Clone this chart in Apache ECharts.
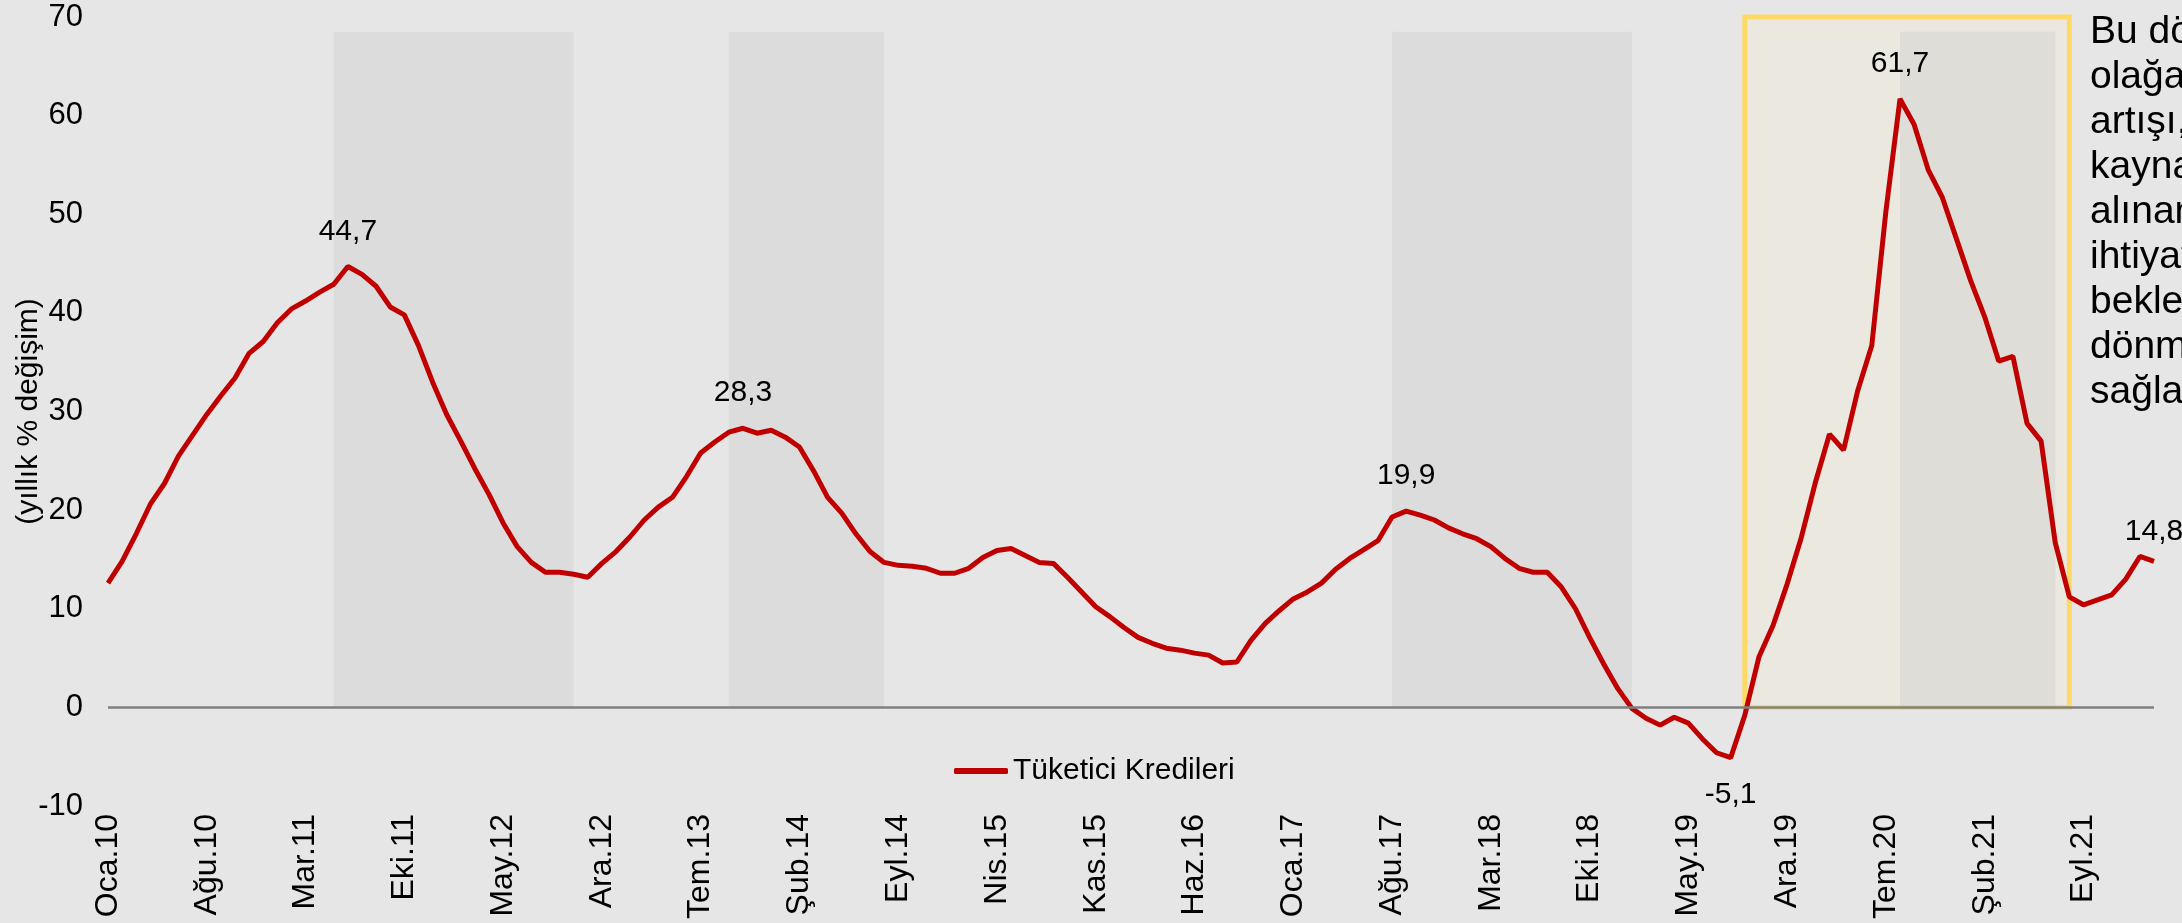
<!DOCTYPE html>
<html>
<head>
<meta charset="utf-8">
<script src="https://cdn.jsdelivr.net/npm/echarts@6/dist/echarts.min.js"></script>
<style>
  html, body { margin: 0; padding: 0; background: #e6e6e6; }
  #chart { width: 2182px; height: 923px; }
</style>
</head>
<body>
<div id="chart"></div>
<script>
// aylar (Oca.10 - Şub.22)
var monthNames = ["Oca", "Şub", "Mar", "Nis", "May", "Haz", "Tem", "Ağu", "Eyl", "Eki", "Kas", "Ara"];
var startYear = 10;
var monthCount = 146;

// Tüketici kredileri, yıllık % değişim (aylık okuma)
var tuketiciKredileri = [
  12.6, 14.8, 17.6, 20.6, 22.7, 25.5, 27.6, 29.7, 31.6, 33.4, 35.9, 37.1,
  39.0, 40.4, 41.2, 42.1, 42.9, 44.7, 43.9, 42.7, 40.6, 39.8, 36.7, 33.0,
  29.7, 27.0, 24.2, 21.6, 18.7, 16.3, 14.7, 13.7, 13.7, 13.5, 13.2, 14.6,
  15.8, 17.3, 19.0, 20.3, 21.3, 23.4, 25.8, 26.9, 27.9, 28.3, 27.8, 28.1,
  27.4, 26.4, 24.0, 21.3, 19.7, 17.6, 15.8, 14.7, 14.4, 14.3, 14.1, 13.6,
  13.6, 14.1, 15.2, 15.9, 16.1, 15.4, 14.7, 14.6, 13.2, 11.7, 10.2, 9.2,
  8.1, 7.1, 6.5, 6.0, 5.8, 5.5, 5.3, 4.5, 4.6, 6.8, 8.5, 9.8,
  11.0, 11.7, 12.6, 14.0, 15.1, 16.0, 16.9, 19.3, 19.9, 19.5, 19.0, 18.2,
  17.6, 17.1, 16.3, 15.1, 14.1, 13.7, 13.7, 12.2, 10.0, 7.1, 4.4, 1.9,
  -0.1, -1.1, -1.8, -1.0, -1.6, -3.2, -4.6, -5.1, -0.8, 5.1, 8.3, 12.5,
  17.2, 22.8, 27.7, 26.1, 32.1, 36.7, 50.3, 61.7, 59.1, 54.5, 51.7, 47.5,
  43.3, 39.6, 35.1, 35.6, 28.8, 27.0, 16.7, 11.2, 10.4, 10.9, 11.4, 13.0,
  15.3, 14.8
];

// etiketlenen noktalar
var labelIdx = [17, 45, 92, 115, 127, 145];
var labelPos = ["top", "top", "top", "bottom", "top", "top"];

// gri dönemler
var greyBands = [["May.11", "Eki.12"], ["Eyl.13", "Ağu.14"], ["Ağu.17", "Oca.19"], ["Ağu.20", "Tem.21"]];
var highlightBox = ["Eyl.19", "Ağu.21"];

var noteLines = ["Bu dönemde", "olağanüstü", "artışı,", "kaynaklı", "alınan", "ihtiyati", "beklenen", "dönmesini", "sağlanmıştır."];

var months = [];
for (var i = 0; i < monthCount; i++) {
  months.push(monthNames[i % 12] + "." + (startYear + Math.floor(i / 12)));
}

var seriesData = tuketiciKredileri.map(function (v, i) {
  var k = labelIdx.indexOf(i);
  if (k < 0) return v;
  return {
    value: v,
    label: {
      show: true,
      position: labelPos[k],
      distance: labelPos[k] === "bottom" ? 22 : (i === 145 ? 15 : 20)
    }
  };
});

var font = "Liberation Sans, Arial, sans-serif";

var chart = echarts.init(document.getElementById("chart"));
var option = {
  backgroundColor: "#e6e6e6",
  animation: false,
  grid: { left: 108, right: 28, top: 17, bottom: 117, outerBoundsMode: "none", containLabel: false },
  legend: {
    data: ["Tüketici Kredileri"],
    left: 949,
    top: 751,
    icon: "roundRect",
    itemWidth: 54,
    itemHeight: 6,
    textStyle: { fontFamily: font, fontSize: 30, color: "#000" }
  },
  xAxis: {
    type: "category",
    data: months,
    boundaryGap: false,
    axisLine: { show: false, onZero: false },
    axisTick: { show: false },
    axisLabel: {
      interval: 6,
      rotate: 90,
      margin: 8,
      fontFamily: font,
      fontSize: 32,
      color: "#000"
    },
    splitLine: { show: false }
  },
  yAxis: {
    type: "value",
    min: -10,
    max: 70,
    interval: 10,
    name: "(yıllık % değişim)",
    nameLocation: "middle",
    nameGap: 64,
    nameMoveOverlap: false,
    nameTextStyle: { fontFamily: font, fontSize: 30, color: "#000" },
    axisLine: { show: false },
    axisTick: { show: false },
    splitLine: { show: false },
    axisLabel: { margin: 25, fontFamily: font, fontSize: 31, color: "#000" }
  },
  series: [
    {
      name: "Tüketici Kredileri",
      type: "line",
      z: 2,
      data: seriesData,
      symbol: "circle",
      symbolSize: 0.1,
      showSymbol: true,
      showAllSymbol: true,
      lineStyle: { color: "#c00000", width: 5 },
      itemStyle: { color: "#c00000" },
      label: {
        fontFamily: font,
        fontSize: 30,
        color: "#000",
        formatter: function (p) { return p.value.toFixed(1).replace(".", ","); }
      },
      markLine: {
        silent: true,
        symbol: "none",
        label: { show: false },
        lineStyle: { color: "#808080", width: 2.5, type: "solid" },
        data: [{ yAxis: 0 }]
      }
    },
    {
      name: "kutu",
      type: "line",
      z: 8,
      data: [],
      clip: false,
      markArea: {
        silent: true,
        itemStyle: {
          color: "rgba(255,243,205,0.22)",
          borderColor: "#ffd966",
          borderWidth: 5
        },
        data: [[{ xAxis: highlightBox[0], yAxis: 0 }, { xAxis: highlightBox[1], yAxis: 70 }]]
      }
    },
    {
      name: "bantlar",
      type: "line",
      z: 9,
      data: [],
      markArea: {
        silent: true,
        itemStyle: { color: "rgba(200,200,200,0.32)" },
        data: greyBands.map(function (b) {
          return [{ xAxis: b[0], yAxis: 0 }, { xAxis: b[1], yAxis: 68.5 }];
        })
      }
    }
  ],
  graphic: [
    {
      type: "text",
      left: 2090,
      top: 10,
      style: {
        text: noteLines.join("\n"),
        font: "39px " + font,
        lineHeight: 45,
        fill: "#000"
      }
    }
  ]
};
chart.setOption(option);
</script>
</body>
</html>
